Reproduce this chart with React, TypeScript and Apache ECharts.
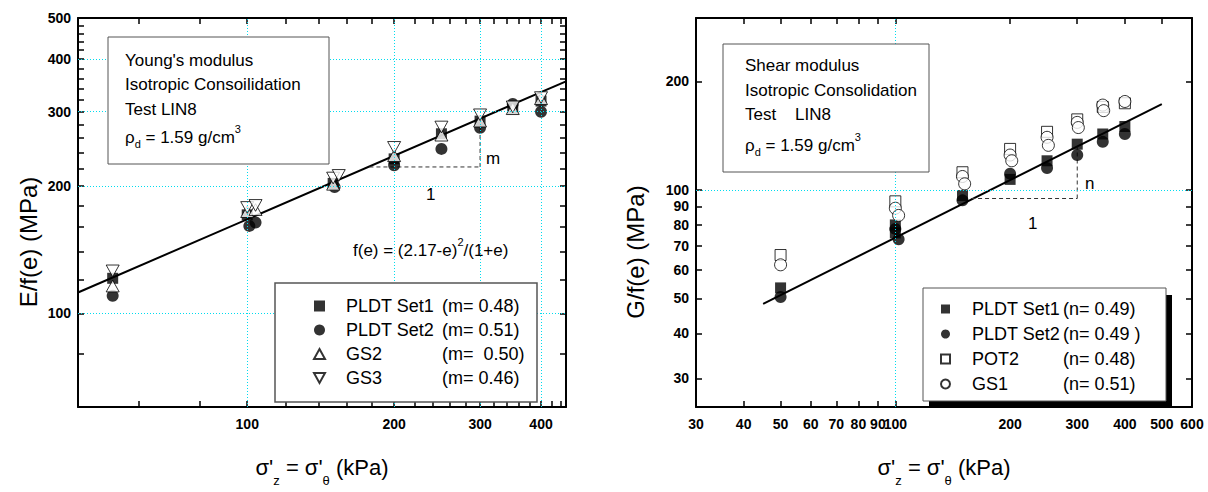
import React, { useEffect, useRef } from 'react';
import * as echarts from 'echarts';

const FONT = 'Liberation Sans, Arial, sans-serif';

// ---------- Left chart: Young's modulus ----------
const leftXTicks = [60, 80, 100, 120, 140, 160, 180, 200, 220, 240, 260, 280, 300, 320, 340, 360, 380, 400, 420, 440];
const leftXLabels = [100, 200, 300, 400];
const leftYTicks = [60, 80, 100, 120, 140, 160, 180, 200, 220, 240, 260, 280, 300, 320, 340, 360, 380, 400, 420, 440, 460, 480, 500];
const leftYLabels = [100, 200, 300, 400, 500];
const leftGridX = [100, 200, 300, 400];
const leftGridY = [100, 200, 300, 400];

const leftNames = ['PLDT Set1', 'PLDT Set2', 'GS2', 'GS3'];
const leftSlopes = ['(m= 0.48)', '(m= 0.51)', '(m=  0.50)', '(m= 0.46)'];
const leftSet1: [number, number][] = [[53, 121], [100, 171], [150, 203], [200, 232], [250, 266], [300, 285], [350, 305], [400, 318]];
const leftSet2: [number, number][] = [[53, 110], [101, 161], [104, 164], [151, 199], [200, 224], [250, 245], [300, 275], [350, 313], [400, 300]];
const leftGS2: [number, number][] = [[53, 116], [100, 174], [104, 176], [150, 202], [200, 236], [250, 264], [300, 285], [350, 305], [400, 322]];
const leftGS3: [number, number][] = [[53, 126], [100, 178], [104, 180], [150, 209], [154, 212], [200, 247], [250, 276], [300, 295], [350, 308], [400, 324]];
const leftFit: [number, number][] = [[45, 112], [450, 354]];
const leftSlopeH: [number, number][] = [[178, 222], [300, 222]];
const leftSlopeV: [number, number][] = [[300, 222], [300, 289]];

// ---------- Right chart: Shear modulus ----------
const rightXTicks = [30, 40, 50, 60, 70, 80, 90, 100, 200, 300, 400, 500, 600];
const rightXLabels = [30, 40, 50, 60, 70, 80, 90, 100, 200, 300, 400, 500, 600];
const rightYTicks = [30, 40, 50, 60, 70, 80, 90, 100, 200];
const rightYLabels = [30, 40, 50, 60, 70, 80, 90, 100, 200];
const rightGridX = [100];
const rightGridY = [100];

const rightNames = ['PLDT Set1 ', 'PLDT Set2 ', 'POT2', 'GS1'];
const rightSlopes = ['(n= 0.49)', '(n= 0.49 )', '(n= 0.48)', '(n= 0.51)'];
const rightSet1: [number, number][] = [[50, 53.5], [100, 80], [100, 76], [150, 96.5], [200, 107], [250, 120.5], [300, 134], [350, 143], [400, 150]];
const rightSet2: [number, number][] = [[50, 50.5], [100, 78], [102, 73], [150, 93.6], [200, 111], [250, 115], [300, 125], [350, 136], [400, 143]];
const rightPOT2: [number, number][] = [[50, 66], [100, 93], [150, 112], [200, 130], [250, 145], [300, 157], [350, 170], [400, 174]];
const rightGS1: [number, number][] = [[50, 62], [100, 89], [102, 85], [150, 109], [152, 104], [200, 125], [202, 120.5], [250, 140], [252, 133], [300, 154], [302, 149], [350, 172], [352, 166], [400, 176]];
const rightFit: [number, number][] = [[45, 48.3], [500, 173]];
const rightSlopeH: [number, number][] = [[158, 94.7], [300, 94.7]];
const rightSlopeV: [number, number][] = [[300, 94.7], [300, 132]];

const TRI_DOWN = 'path://M0,0 L10,0 L5,9 Z';
const TRI_UP = 'path://M5,0 L10,9 L0,9 Z';

const filled = { color: '#000' };
const open = { color: '#fff', borderColor: '#000', borderWidth: 1 };

function logAxis(grid: number, pos: string, min: number, max: number, ticks: number[], labels: number[] | null, extra: any = {}) {
  return {
    type: 'log',
    logBase: 10,
    gridIndex: grid,
    position: pos,
    min,
    max,
    axisLine: { show: true, onZero: false, lineStyle: { color: '#000', width: 2 } },
    axisTick: { show: true, inside: true, length: 6, customValues: ticks, lineStyle: { color: '#000', width: 1.5 } },
    axisLabel: labels
      ? { show: true, customValues: labels, formatter: (v: number) => String(Math.round(v)), color: '#000', fontFamily: FONT, fontWeight: 'bold', fontSize: 14, margin: pos === 'bottom' ? 10 : 7 }
      : { show: false },
    splitLine: { show: false },
    minorTick: { show: false },
    ...extra,
  };
}

const xTitleRich = {
  s: { fontSize: 13, fontFamily: FONT, color: '#000', padding: [26, 0, 0, 0] },
};

function gridLines(xs: number[], ys: number[]) {
  return {
    silent: true,
    symbol: 'none',
    label: { show: false },
    lineStyle: { color: '#00dcef', type: [1, 2], width: 1 },
    data: [...xs.map((x) => ({ xAxis: x })), ...ys.map((y) => ({ yAxis: y }))],
  };
}

function dashed(data: [number, number][], xi: number, yi: number) {
  return {
    type: 'line', data, xAxisIndex: xi, yAxisIndex: yi, showSymbol: false, silent: true,
    lineStyle: { color: '#333', width: 1, type: [4, 3] },
  };
}

function scatter(name: string, data: [number, number][], xi: number, yi: number, symbol: string, size: number, itemStyle: any) {
  return { type: 'scatter', name, data, xAxisIndex: xi, yAxisIndex: yi, symbol, symbolSize: size, symbolKeepAspect: true, itemStyle, z: 3 };
}

function legendCfg(names: string[], slopes: string[], icons: string[], left: number, top: number, gap: number, colW: number, pad: number, size: number) {
  return {
    data: names.map((n, i) => ({ name: n, icon: icons[i] })),
    orient: 'vertical',
    left,
    top,
    padding: 0,
    itemGap: gap,
    itemWidth: size,
    itemHeight: size,
    selectedMode: false,
    z: 30,
    formatter: (n: string) => {
      const i = names.indexOf(n);
      return `{a|${n}}{b|${slopes[i]}}`;
    },
    textStyle: {
      color: '#000',
      fontFamily: FONT,
      fontSize: 18,
      lineHeight: 20,
      rich: {
        a: { fontSize: 18, fontFamily: FONT, lineHeight: 20, width: colW, padding: [0, 0, 0, pad] },
        b: { fontSize: 18, fontFamily: FONT, lineHeight: 20 },
      },
    },
  };
}

function boxText(x: number, y: number, rich: string, z = 12) {
  return {
    type: 'text', x, y, z,
    style: {
      text: rich, fill: '#000', font: `17px ${FONT}`, verticalAlign: 'middle',
      rich: {
        sub: { fontSize: 11, fontFamily: FONT, padding: [14, 0, 0, 0] },
        sup: { fontSize: 11, fontFamily: FONT, padding: [0, 0, 16, 0] },
      },
    },
  };
}

export default function App() {
  const ref = useRef<HTMLDivElement>(null);
  useEffect(() => {
    if (!ref.current) return;
    const chart = echarts.init(ref.current, null, { renderer: 'svg' });
    const option: any = {
      animation: false,
      backgroundColor: '#fff',
      grid: [
        { left: 78, top: 18, width: 488, height: 413 },
        { left: 696, top: 18, width: 496, height: 413 },
      ],
      xAxis: [
        logAxis(0, 'bottom', 45, 450, leftXTicks, leftXLabels, {
          name: "σ'{s|z} = σ'{s|θ} (kPa)", nameLocation: 'middle', nameGap: 41,
          nameTextStyle: { fontSize: 22, fontFamily: FONT, color: '#000', rich: xTitleRich },
        }),
        logAxis(0, 'top', 45, 450, leftXTicks, null),
        logAxis(1, 'bottom', 30, 600, rightXTicks, rightXLabels, {
          name: "σ'{s|z} = σ'{s|θ} (kPa)", nameLocation: 'middle', nameGap: 41,
          nameTextStyle: { fontSize: 22, fontFamily: FONT, color: '#000', rich: xTitleRich },
        }),
        logAxis(1, 'top', 30, 600, rightXTicks, null),
      ],
      yAxis: [
        logAxis(0, 'left', 60, 500, leftYTicks, leftYLabels),
        logAxis(0, 'right', 60, 500, leftYTicks, null),
        logAxis(1, 'left', 25, 300, rightYTicks, rightYLabels),
        logAxis(1, 'right', 25, 300, rightYTicks, null),
      ],
      legend: [
        legendCfg(leftNames, leftSlopes, ['rect', 'circle', TRI_UP, TRI_DOWN], 313, 296, 4, 96, 16, 11),
        legendCfg(rightNames, rightSlopes, ['rect', 'circle', 'rect', 'circle'], 940, 299, 5, 91, 17, 9),
      ],
      series: [
        {
          type: 'line', data: leftFit, xAxisIndex: 0, yAxisIndex: 0, showSymbol: false, silent: true,
          lineStyle: { color: '#000', width: 2 }, z: 2,
          markLine: gridLines(leftGridX, leftGridY),
        },
        dashed(leftSlopeH, 0, 0),
        dashed(leftSlopeV, 0, 0),
        scatter('PLDT Set1', leftSet1, 0, 0, 'rect', 11, filled),
        scatter('PLDT Set2', leftSet2, 0, 0, 'circle', 12, filled),
        scatter('GS2', leftGS2, 0, 0, TRI_UP, 13, open),
        scatter('GS3', leftGS3, 0, 0, TRI_DOWN, 13, open),
        {
          type: 'line', data: rightFit, xAxisIndex: 2, yAxisIndex: 2, showSymbol: false, silent: true,
          lineStyle: { color: '#000', width: 2 }, z: 2,
          markLine: gridLines(rightGridX, rightGridY),
        },
        dashed(rightSlopeH, 2, 2),
        dashed(rightSlopeV, 2, 2),
        scatter('PLDT Set1 ', rightSet1, 2, 2, 'rect', 11, filled),
        scatter('PLDT Set2 ', rightSet2, 2, 2, 'circle', 12, filled),
        scatter('POT2', rightPOT2, 2, 2, 'rect', 11, open),
        scatter('GS1', rightGS1, 2, 2, 'circle', 12, open),
      ],
      graphic: [
        { type: 'rect', z: 10, shape: { x: 108, y: 37, width: 221, height: 127 }, style: { fill: '#fff', stroke: '#555', lineWidth: 1 } },
        boxText(125, 60, "Young's modulus"),
        boxText(125, 84, 'Isotropic Consoilidation'),
        boxText(125, 109, 'Test LIN8'),
        boxText(125, 137, 'ρ{sub|d} = 1.59 g/cm{sup|3}'),
        { type: 'rect', z: 10, shape: { x: 275, y: 283, width: 262, height: 119 }, style: { fill: '#fff', stroke: '#555', lineWidth: 1.5 } },
        { type: 'text', z: 12, x: 353, y: 250, style: { text: 'f(e) = (2.17-e){sup|2}/(1+e)', fill: '#000', font: `17px ${FONT}`, verticalAlign: 'middle', rich: { sup: { fontSize: 11, fontFamily: FONT, padding: [0, 0, 16, 0] } } } },
        { type: 'text', z: 12, x: 426, y: 194, style: { text: '1', fill: '#000', font: `17px ${FONT}`, verticalAlign: 'middle' } },
        { type: 'text', z: 12, x: 486, y: 158, style: { text: 'm', fill: '#000', font: `17px ${FONT}`, verticalAlign: 'middle' } },
        { type: 'text', z: 12, x: 28, y: 242, rotation: Math.PI / 2, style: { text: 'E/f(e) (MPa)', fill: '#000', font: `24px ${FONT}`, align: 'center', verticalAlign: 'middle' } },
        { type: 'rect', z: 10, shape: { x: 723, y: 44, width: 206, height: 128 }, style: { fill: '#fff', stroke: '#555', lineWidth: 1 } },
        boxText(745, 65, 'Shear modulus'),
        boxText(745, 90, 'Isotropic Consolidation'),
        boxText(745, 114, 'Test    LIN8'),
        boxText(745, 145, 'ρ{sub|d} = 1.59 g/cm{sup|3}'),
        { type: 'rect', z: 9, shape: { x: 929, y: 295, width: 243, height: 113 }, style: { fill: '#000' } },
        { type: 'rect', z: 10, shape: { x: 923, y: 288, width: 243, height: 113 }, style: { fill: '#fff', stroke: '#555', lineWidth: 1 } },
        { type: 'text', z: 12, x: 1028, y: 223, style: { text: '1', fill: '#000', font: `17px ${FONT}`, verticalAlign: 'middle' } },
        { type: 'text', z: 12, x: 1085, y: 183, style: { text: 'n', fill: '#000', font: `17px ${FONT}`, verticalAlign: 'middle' } },
        { type: 'text', z: 12, x: 635, y: 252, rotation: Math.PI / 2, style: { text: 'G/f(e) (MPa)', fill: '#000', font: `24px ${FONT}`, align: 'center', verticalAlign: 'middle' } },
      ],
    };
    chart.setOption(option);
    return () => chart.dispose();
  }, []);
  return <div ref={ref} style={{ position: 'fixed', left: 0, top: 0, width: 1208, height: 492, background: '#fff' }} />;
}
